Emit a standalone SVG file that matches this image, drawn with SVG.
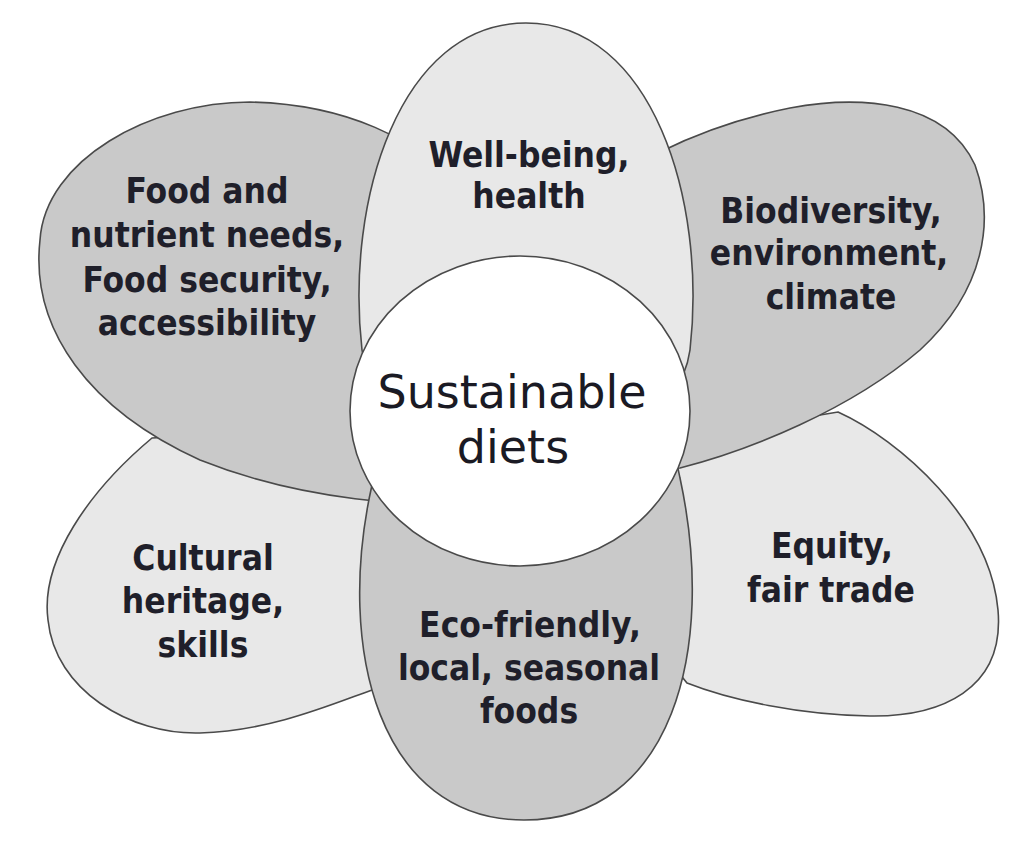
<svg xmlns="http://www.w3.org/2000/svg" width="1024" height="851" viewBox="0 0 1024 851">
<style>
.light{fill:#e8e8e8;stroke:#4a4a4a;stroke-width:1.6}
.dark{fill:#c9c9c9;stroke:#4a4a4a;stroke-width:1.6}
.center{fill:#ffffff;stroke:#4a4a4a;stroke-width:1.6}
.lbl{font-family:"DejaVu Sans Condensed","DejaVu Sans",sans-serif;font-stretch:condensed;font-weight:bold;font-size:35px;fill:#1f1f2a;text-anchor:middle}
.main{font-family:"DejaVu Sans",sans-serif;font-size:46px;fill:#1a1a24;text-anchor:middle}
</style>
<rect width="1024" height="851" fill="#ffffff"/>
<g id="cultural">
<path class="light" d="M450,500 L300,430 L152,438 C90,490 40,560 48,620 C55,690 130,735 200,733 C270,731 330,705 372,690 L420,650 Z"/>
<text class="lbl" x="203" y="570">Cultural</text>
<text class="lbl" x="203" y="613">heritage,</text>
<text class="lbl" x="203" y="657">skills</text>
</g>
<g id="equity">
<path class="light" d="M600,450 L760,425 L838,412 C900,440 990,520 998,610 C1005,690 940,717 870,716 C800,715 730,700 687,683 L620,600 Z"/>
<text class="lbl" x="832" y="558">Equity,</text>
<text class="lbl" x="831" y="602">fair trade</text>
</g>
<g id="food">
<path class="dark" d="M480,500 C420,510 300,500 200,460 C90,410 30,330 40,240 C45,160 150,102 250,102 C340,104 420,135 470,200 L520,350 Z"/>
<text class="lbl" x="207" y="203">Food and</text>
<text class="lbl" x="207" y="247">nutrient needs,</text>
<text class="lbl" x="207" y="292">Food security,</text>
<text class="lbl" x="207" y="335">accessibility</text>
</g>
<g id="biodiversity">
<path class="dark" d="M600,470 L680,468 C750,450 850,410 920,350 C985,290 995,220 975,165 C945,100 860,95 790,108 C740,118 700,132 660,152 L600,250 Z"/>
<text class="lbl" x="831" y="223">Biodiversity,</text>
<text class="lbl" x="829" y="265">environment,</text>
<text class="lbl" x="831" y="309">climate</text>
</g>
<g id="wellbeing">
<path class="light" d="M526,23 C652,23 707,200 690,350 C680,420 600,460 526,460 C450,460 372,420 362,350 C345,200 400,23 526,23 Z"/>
<text class="lbl" x="529" y="167">Well-being,</text>
<text class="lbl" x="529" y="208">health</text>
</g>
<g id="ecofriendly">
<path class="dark" d="M524,820 C380,820 335,650 372,485 C380,420 450,380 524,380 C600,380 672,420 680,478 C717,650 672,820 524,820 Z"/>
<text class="lbl" x="530" y="637">Eco-friendly,</text>
<text class="lbl" x="529" y="680">local, seasonal</text>
<text class="lbl" x="529" y="723">foods</text>
</g>
<g id="sustainable-diets">
<ellipse class="center" cx="520" cy="411" rx="170" ry="155"/>
<text class="main" x="512" y="408">Sustainable</text>
<text class="main" x="513" y="463">diets</text>
</g>
<g id="connectors"/>
</svg>
